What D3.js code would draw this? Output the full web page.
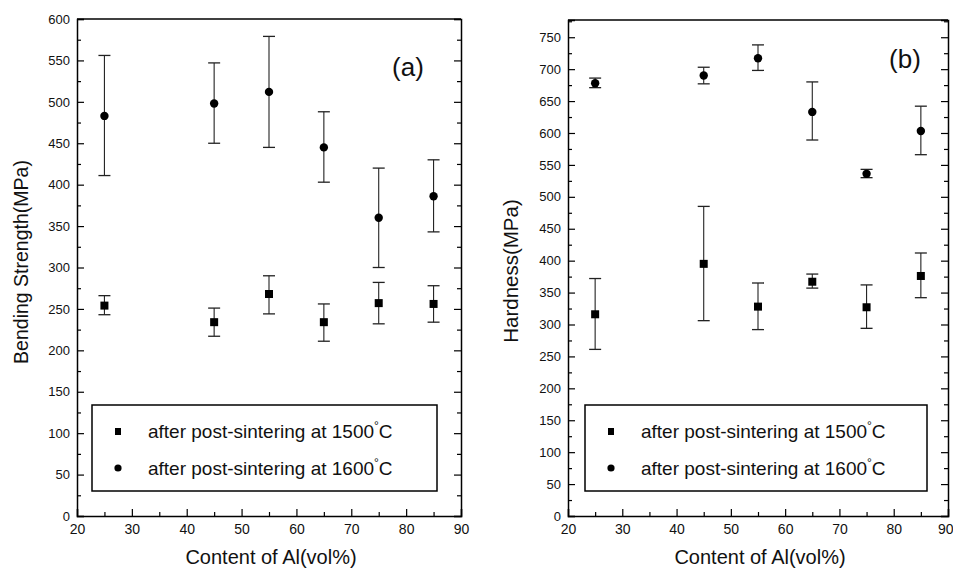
<!DOCTYPE html>
<html><head><meta charset="utf-8">
<script src="https://cdn.jsdelivr.net/npm/d3@7"></script>
<style>body{margin:0;background:#fff}svg{display:block}text{font-family:"Liberation Sans",Arial,sans-serif;fill:#111}</style>
</head><body>
<script>
const alContent = [25, 45, 55, 65, 75, 85];
// Panel (a) bending strength (MPa)
const bend1500 = [254, 234, 268, 234, 257, 256];
const bend1500Lo = [243, 217, 244, 211, 232, 234];
const bend1500Hi = [266, 251, 290, 256, 282, 278];
const bend1600 = [483, 498, 512, 445, 360, 386];
const bend1600Lo = [411, 450, 445, 403, 300, 343];
const bend1600Hi = [556, 547, 579, 488, 420, 430];
// Panel (b) hardness (MPa)
const hard1500 = [316, 395, 328, 367, 327, 376];
const hard1500Lo = [261, 306, 292, 357, 294, 342];
const hard1500Hi = [372, 485, 365, 379, 362, 412];
const hard1600 = [678, 690, 717, 633, 536, 603];
const hard1600Lo = [671, 677, 698, 589, 530, 566];
const hard1600Hi = [686, 703, 738, 680, 543, 642];
const xTicks = [20, 30, 40, 50, 60, 70, 80, 90];
const yTicksA = [0, 50, 100, 150, 200, 250, 300, 350, 400, 450, 500, 550, 600];
const yTicksB = [0, 50, 100, 150, 200, 250, 300, 350, 400, 450, 500, 550, 600, 650, 700, 750];
const legendLabels = ["after post-sintering at 1500", "after post-sintering at 1600"];

const svg = d3.select("body").append("svg").attr("width", 953).attr("height", 571);

function panel(cfg) {
  const x = d3.scaleLinear().domain([20, 90]).range([cfg.x0, cfg.x1]);
  const y = d3.scaleLinear().domain([0, cfg.ymax]).range([516, cfg.top]);
  const g = svg.append("g");
  const minorX = d3.range(25, 90, 10);
  const minorY = d3.range(25, cfg.ymax, 50);
  // bottom axis
  const bx = g.append("g").attr("transform", `translate(0,516)`)
    .call(d3.axisBottom(x).tickValues(xTicks).tickSize(-7).tickPadding(8).tickFormat(d3.format("d")));
  bx.selectAll(".tick text").attr("font-size", 14);
  if (cfg.clipLast) bx.selectAll(".tick text").filter(d => d === 90).attr("text-anchor", "end").attr("dx", 5);
  g.append("g").attr("transform", `translate(0,516)`)
    .call(d3.axisBottom(x).tickValues(minorX).tickSize(-4).tickFormat(""))
    .call(s => s.select(".domain").remove());
  // left axis
  const ly = g.append("g").attr("transform", `translate(${cfg.x0},0)`)
    .call(d3.axisLeft(y).tickValues(cfg.yTicks).tickSize(-7).tickPadding(7).tickFormat(d3.format("d")));
  ly.selectAll(".tick text").attr("font-size", 13);
  g.append("g").attr("transform", `translate(${cfg.x0},0)`)
    .call(d3.axisLeft(y).tickValues(minorY).tickSize(-4).tickFormat(""))
    .call(s => s.select(".domain").remove());
  // right axis
  g.append("g").attr("transform", `translate(${cfg.x1},0)`)
    .call(d3.axisRight(y).tickValues(cfg.yTicks).tickSize(-7).tickFormat(""));
  g.append("g").attr("transform", `translate(${cfg.x1},0)`)
    .call(d3.axisRight(y).tickValues(minorY).tickSize(-4).tickFormat(""))
    .call(s => s.select(".domain").remove());
  g.selectAll(".domain").attr("stroke", "#000").attr("stroke-width", 1.5);
  g.selectAll(".tick line").attr("stroke", "#000").attr("stroke-width", 1.2);
  g.selectAll(".tick text").attr("font-family", "Liberation Sans, Arial, sans-serif").attr("fill", "#111");
  // top border
  g.append("line").attr("x1", cfg.x0).attr("x2", cfg.x1).attr("y1", y(cfg.ymax)).attr("y2", y(cfg.ymax))
    .attr("stroke", "#000").attr("stroke-width", 1.5);

  // error bars + markers
  const series = [
    {v: cfg.s1, lo: cfg.s1Lo, hi: cfg.s1Hi, shape: "square"},
    {v: cfg.s2, lo: cfg.s2Lo, hi: cfg.s2Hi, shape: "circle"}
  ];
  series.forEach(s => {
    const eg = g.append("g");
    alContent.forEach((a, i) => {
      const cx = x(a);
      eg.append("line").attr("x1", cx).attr("x2", cx).attr("y1", y(s.lo[i])).attr("y2", y(s.hi[i]))
        .attr("stroke", "#222").attr("stroke-width", 1.1);
      [s.lo[i], s.hi[i]].forEach(e => eg.append("line").attr("x1", cx - 6).attr("x2", cx + 6)
        .attr("y1", y(e)).attr("y2", y(e)).attr("stroke", "#222").attr("stroke-width", 1.3));
      if (s.shape === "square") {
        eg.append("rect").attr("x", cx - 4).attr("y", y(s.v[i]) - 4).attr("width", 8).attr("height", 8).attr("fill", "#000");
      } else {
        eg.append("circle").attr("cx", cx).attr("cy", y(s.v[i])).attr("r", 4.2).attr("fill", "#000");
      }
    });
  });

  // legend
  const lg = g.append("g");
  lg.append("rect").attr("x", cfg.lx).attr("y", 405).attr("width", cfg.lw).attr("height", 86)
    .attr("fill", "#fff").attr("stroke", "#000").attr("stroke-width", 1.5);
  [[431, "square"], [468, "circle"]].forEach(([ly, shape], k) => {
    if (shape === "square") lg.append("rect").attr("x", cfg.lx + 23).attr("y", ly - 3).attr("width", 6).attr("height", 7).attr("fill", "#000");
    else lg.append("circle").attr("cx", cfg.lx + 26).attr("cy", ly).attr("r", 3.6).attr("fill", "#000");
    const t = lg.append("text").attr("x", cfg.lx + 56).attr("y", ly + 7).attr("font-size", 19);
    t.append("tspan").text(legendLabels[k]);
    t.append("tspan").attr("dy", -8).attr("font-size", 12).text("°");
    t.append("tspan").attr("dy", 8).text("C");
  });

  // titles
  g.append("text").attr("transform", `translate(${cfg.ytx},${cfg.yty}) rotate(-90)`).attr("text-anchor", "middle")
    .attr("font-size", cfg.ytsize).text(cfg.ytitle);
  g.append("text").attr("x", (cfg.x0 + cfg.x1) / 2 + 2).attr("y", 564).attr("text-anchor", "middle")
    .attr("font-size", 20).text("Content of Al(vol%)");
  g.append("text").attr("x", cfg.labx).attr("y", cfg.laby).attr("text-anchor", "middle")
    .attr("font-size", 26).text(cfg.label);
}

panel({x0: 77, x1: 461, top: 19, ymax: 600, yTicks: yTicksA,
  s1: bend1500, s1Lo: bend1500Lo, s1Hi: bend1500Hi, s2: bend1600, s2Lo: bend1600Lo, s2Hi: bend1600Hi,
  lx: 92, lw: 345, ytitle: "Bending Strength(MPa)", ytsize: 19.5, ytx: 28, yty: 262, label: "(a)", labx: 408, laby: 76});
panel({x0: 568, x1: 948, top: 20, ymax: 777, yTicks: yTicksB, clipLast: true,
  s1: hard1500, s1Lo: hard1500Lo, s1Hi: hard1500Hi, s2: hard1600, s2Lo: hard1600Lo, s2Hi: hard1600Hi,
  lx: 585, lw: 342, ytitle: "Hardness(MPa)", ytsize: 20.5, ytx: 518, yty: 271, label: "(b)", labx: 905, laby: 68});
</script>
</body></html>
